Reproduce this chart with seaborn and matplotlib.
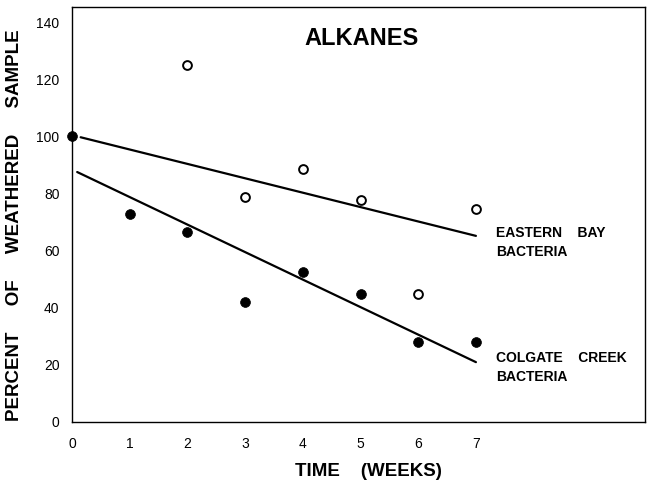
import matplotlib
matplotlib.use("Agg")
import matplotlib.pyplot as plt
import seaborn as sns
import pandas as pd

# ---- data ----
weeks = [0, 1, 2, 3, 4, 5, 6, 7]
colgate_values = [100, 72.6, 66.3, 41.8, 52.3, 44.6, 27.7, 27.7]
eastern_weeks = [2, 3, 4, 5, 6, 7]
eastern_values = [124.9, 78.6, 88.4, 77.5, 44.6, 74.4]
eastern_fit_x = [0.15, 7]
eastern_fit_y = [99.6, 65.0]
colgate_fit_x = [0.09, 7]
colgate_fit_y = [87.4, 20.7]
x_ticks = [0, 1, 2, 3, 4, 5, 6, 7]
y_ticks = [0, 20, 40, 60, 80, 100, 120, 140]

sns.set_theme(style="white")
plt.rcParams['font.family'] = ['Liberation Sans', 'DejaVu Sans']

fig = plt.figure(figsize=(6.47, 4.8), dpi=100)
ax = fig.add_axes([72/647, 1-422/480, (645-72)/647, (422-7)/480])

df_c = pd.DataFrame({"week": weeks, "pct": colgate_values})
df_e = pd.DataFrame({"week": eastern_weeks, "pct": eastern_values})

sns.lineplot(x=eastern_fit_x, y=eastern_fit_y, ax=ax, color="black", linewidth=1.6)
sns.lineplot(x=colgate_fit_x, y=colgate_fit_y, ax=ax, color="black", linewidth=1.6)
sns.scatterplot(data=df_e, x="week", y="pct", ax=ax, marker="o", s=40,
                facecolor="white", edgecolor="black", linewidth=1.4, zorder=3, clip_on=False)
sns.scatterplot(data=df_c, x="week", y="pct", ax=ax, marker="o", s=50,
                color="black", edgecolor="black", linewidth=0.5, zorder=4, clip_on=False)

ax.set_xlim(0, 9.93)
ax.set_ylim(-0.3, 145.3)
ax.set_xticks(x_ticks)
ax.set_yticks(y_ticks)
ax.set_xticklabels([str(t) for t in x_ticks], fontsize=10)
ax.set_yticklabels([str(t) for t in y_ticks], fontsize=10)
ax.tick_params(axis="both", length=0, colors="black")
ax.tick_params(axis="y", pad=9)
ax.tick_params(axis="x", pad=11)
ax.set_xlabel("")
ax.set_ylabel("")
for s in ax.spines.values():
    s.set_color("black")
    s.set_linewidth(1.0)

ax.text(0.505, 0.923, "ALKANES", transform=ax.transAxes, ha="center", va="center",
        fontsize=17, fontweight="bold", color="black")
ax.text(7.35, 62.6, "EASTERN    BAY\nBACTERIA", ha="left", va="center",
        fontsize=10, fontweight="bold", color="black", linespacing=1.45)
ax.text(7.35, 18.8, "COLGATE    CREEK\nBACTERIA", ha="left", va="center",
        fontsize=10, fontweight="bold", color="black", linespacing=1.45)

fig.text(368/647, 1-471/480, "TIME    (WEEKS)", ha="center", va="center",
         fontsize=13.5, fontweight="bold", color="black")
fig.text(15/647, 1-225/480, "PERCENT     OF     WEATHERED     SAMPLE", ha="center", va="center",
         rotation=90, fontsize=13.5, fontweight="bold", color="black")

fig.savefig("out.png", dpi=100)
